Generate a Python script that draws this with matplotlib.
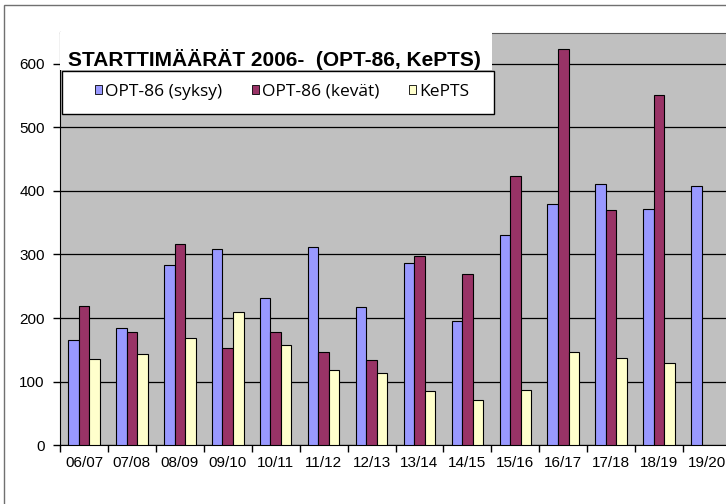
import matplotlib
matplotlib.use("Agg")
import matplotlib.pyplot as plt
import numpy as np
from matplotlib.patches import Patch, Rectangle

seasons = ["06/07", "07/08", "08/09", "09/10", "10/11", "11/12", "12/13",
           "13/14", "14/15", "15/16", "16/17", "17/18", "18/19", "19/20"]
syksy = [166, 185, 284, 309, 231, 312, 217, 286, 196, 330, 379, 411, 371, 407]
kevat = [219, 178, 316, 153, 178, 146, 134, 297, 270, 423, 623, 370, 550, np.nan]
kepts = [136, 143, 168, 210, 157, 118, 113, 85, 72, 87, 146, 138, 129, np.nan]
series_names = ["OPT-86 (syksy)", "OPT-86 (kevät)", "KePTS"]
colors = ["#9999FF", "#993366", "#FFFFCC"]
title = "STARTTIMÄÄRÄT 2006-  (OPT-86, KePTS)"

W, H = 726, 504
fig = plt.figure(figsize=(W / 100, H / 100), dpi=100)


def px(x0, y0, x1, y1):
    # pixel box (top-left origin) -> figure fraction rect
    return [x0 / W, 1 - y1 / H, (x1 - x0) / W, (y1 - y0) / H]


ax = fig.add_axes(px(60, 32.5, 731, 445.3))
ax.set_facecolor("#C0C0C0")

x = np.arange(len(seasons))
bw = 0.22
for i, (vals, c) in enumerate(zip([syksy, kevat, kepts], colors)):
    ax.bar(x + (i - 1) * bw, vals, width=bw, color=c, edgecolor="black",
           linewidth=0.8, zorder=3)

ax.set_xlim(-0.5, len(seasons) - 0.5)
ax.set_ylim(0, 649)
ax.set_yticks(range(0, 700, 100))
ax.yaxis.grid(True, color="black", linewidth=0.9, zorder=1)
ax.set_axisbelow(True)

ax.set_xticks(np.arange(len(seasons) + 1) - 0.5)
ax.set_xticklabels([])
ax.set_xticks(x, minor=True)
ax.set_xticklabels(seasons, minor=True)
ax.tick_params(axis="x", which="major", length=5, width=1, direction="out")
ax.tick_params(axis="x", which="minor", length=0, pad=8)
ax.tick_params(axis="y", length=5, width=1, direction="out", pad=6)
for lab in ax.get_xticklabels(minor=True) + ax.get_yticklabels():
    lab.set_fontfamily("Liberation Sans")
    lab.set_fontsize(11)

ax.spines["right"].set_visible(False)
ax.spines["top"].set_color("#555555")
ax.spines["left"].set_color("black")
ax.spines["bottom"].set_color("black")

# outer chart border
fig.patches.append(Rectangle((4 / W, -0.05), 1.1, 1 - 5 / H + 0.05,
                             transform=fig.transFigure, fill=False,
                             edgecolor="#707070", linewidth=1, zorder=0))

# title box
r = px(60, 32, 492, 70)
fig.patches.append(Rectangle((r[0], r[1]), r[2], r[3], transform=fig.transFigure,
                             facecolor="white", edgecolor="none", zorder=5))
fig.text(68 / W, 1 - 66 / H, title, ha="left", va="baseline",
         fontfamily="Liberation Sans", fontweight="bold", fontsize=15, zorder=6)

# legend box
lb = px(62, 71, 494, 114)
fig.patches.append(Rectangle((lb[0], lb[1]), lb[2], lb[3], transform=fig.transFigure,
                             facecolor="white", edgecolor="black", linewidth=1,
                             zorder=6))
handles = [Patch(facecolor=c, edgecolor="black", linewidth=0.6) for c in colors]
leg = fig.legend(handles, series_names, loc="center", ncol=3,
                 bbox_to_anchor=(282 / W, 1 - 92 / H), frameon=False,
                 handlelength=0.42, handleheight=0.42, handletextpad=0.18,
                 columnspacing=1.7, prop={"family": "Open Sans", "size": 12.5})
leg.set_zorder(7)

fig.savefig("out.png", dpi=100)
